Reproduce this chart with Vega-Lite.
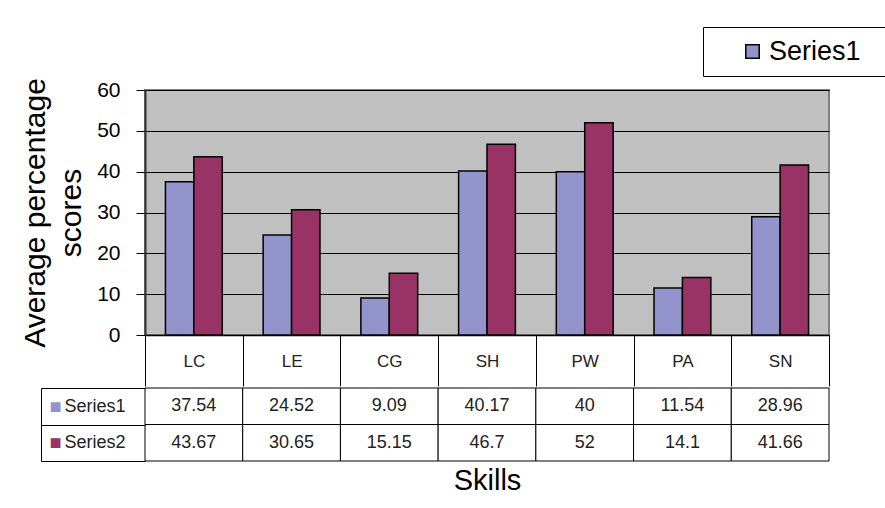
{
  "$schema": "https://vega.github.io/schema/vega-lite/v6.json",
  "padding": {"left": 19, "top": 26, "right": 0, "bottom": 0},
  "background": "white",
  "datasets": {
    "scores": [
      {"skill": "LC", "series": "Series1", "value": 37.54},
      {"skill": "LE", "series": "Series1", "value": 24.52},
      {"skill": "CG", "series": "Series1", "value": 9.09},
      {"skill": "SH", "series": "Series1", "value": 40.17},
      {"skill": "PW", "series": "Series1", "value": 40},
      {"skill": "PA", "series": "Series1", "value": 11.54},
      {"skill": "SN", "series": "Series1", "value": 28.96},
      {"skill": "LC", "series": "Series2", "value": 43.67},
      {"skill": "LE", "series": "Series2", "value": 30.65},
      {"skill": "CG", "series": "Series2", "value": 15.15},
      {"skill": "SH", "series": "Series2", "value": 46.7},
      {"skill": "PW", "series": "Series2", "value": 52},
      {"skill": "PA", "series": "Series2", "value": 14.1},
      {"skill": "SN", "series": "Series2", "value": 41.66}
    ]
  },
  "data": {"name": "scores"},
  "spacing": -15,
  "config": {
    "font": "Liberation Sans",
    "axis": {"labelFont": "Liberation Sans", "titleFont": "Liberation Sans", "titleFontWeight": "normal", "labelColor": "black", "titleColor": "black"},
    "legend": {
      "orient": "none",
      "legendX": 558,
      "legendY": -63,
      "strokeColor": "black",
      "fillColor": "white",
      "padding": 11,
      "symbolOffset": 25,
      "labelFontSize": 27,
      "labelFont": "Liberation Sans",
      "labelColor": "black",
      "labelOffset": 3,
      "symbolType": "square",
      "symbolSize": 180,
      "symbolStrokeColor": "black",
      "symbolStrokeWidth": 1.5,
      "titleOrient": "right",
      "titlePadding": 20,
      "titleFontSize": 20
    }
  },
  "vconcat": [
    {
      "width": 684,
      "height": 245,
      "view": {"fill": "#C0C0C0", "stroke": "#808080", "strokeWidth": 2},
      "mark": {"type": "bar", "stroke": "black", "strokeWidth": 1.5},
      "encoding": {
        "x": {
          "field": "skill",
          "type": "nominal",
          "sort": ["LC", "LE", "CG", "SH", "PW", "PA", "SN"],
          "scale": {"paddingInner": 0, "paddingOuter": 0},
          "axis": {
            "title": null,
            "labelAngle": 0,
            "domainColor": "black",
            "domainWidth": 1.5,
            "tickBand": "extent",
            "tickSize": 51,
            "tickColor": "black",
            "tickWidth": 1,
            "labelFontSize": 17,
            "labelColor": "#222222",
            "labelBaseline": "middle",
            "labelPadding": -25
          }
        },
        "xOffset": {
          "field": "series",
          "scale": {"paddingInner": 0, "paddingOuter": 0.72}
        },
        "y": {
          "field": "value",
          "type": "quantitative",
          "scale": {"domain": [0, 60]},
          "axis": {
            "values": [0, 10, 20, 30, 40, 50, 60],
            "title": ["Average percentage", "scores"],
            "titleFontSize": 30,
            "titleLineHeight": 36,
            "titlePadding": 10,
            "labelFontSize": 21,
            "labelPadding": 16,
            "tickSize": 9,
            "tickColor": "black",
            "domainColor": "#333333",
            "domainWidth": 2,
            "gridColor": "black",
            "gridWidth": 1,
            "gridOpacity": 1
          }
        },
        "color": {
          "field": "series",
          "type": "nominal",
          "scale": {"domain": ["Series1", "Series2"], "range": ["#9494CC", "#993366"]},
          "legend": {"values": ["Series1"], "title": " "}
        }
      }
    },
    {
      "width": 684,
      "height": 73,
      "view": {"stroke": null},
      "layer": [
        {
          "mark": {"type": "rect", "fill": "white", "stroke": "black", "strokeWidth": 1},
          "encoding": {
            "x": {
              "field": "skill",
              "type": "nominal",
              "sort": ["LC", "LE", "CG", "SH", "PW", "PA", "SN"],
              "scale": {"paddingInner": 0, "paddingOuter": 0},
              "axis": {"title": "Skills", "titleFontSize": 29, "titlePadding": 5, "labels": false, "ticks": false, "domain": false}
            },
            "y": {
              "field": "series",
              "type": "nominal",
              "scale": {"domain": ["Series1", "Series2"], "paddingInner": 0, "paddingOuter": 0},
              "axis": {
                "orient": "left",
                "title": null,
                "domain": false,
                "tickBand": "extent",
                "tickSize": 104,
                "tickColor": "black",
                "tickWidth": 1,
                "labelAlign": "left",
                "labelBaseline": "middle",
                "labelFontSize": 18,
                "labelColor": "#222222",
                "labelPadding": -23
              }
            }
          }
        },
        {
          "mark": {"type": "text", "fontSize": 18, "color": "#222222", "font": "Liberation Sans"},
          "encoding": {
            "x": {
              "field": "skill",
              "type": "nominal",
              "sort": ["LC", "LE", "CG", "SH", "PW", "PA", "SN"],
              "scale": {"paddingInner": 0, "paddingOuter": 0}
            },
            "y": {
              "field": "series",
              "type": "nominal",
              "scale": {"domain": ["Series1", "Series2"], "paddingInner": 0, "paddingOuter": 0},
              "axis": {
                "orient": "left",
                "title": null,
                "offset": 104,
                "domain": true,
                "domainColor": "black",
                "domainWidth": 1,
                "ticks": false,
                "labelExpr": "'■'",
                "labelAlign": "center",
                "labelBaseline": "middle",
                "labelFontSize": 20,
                "labelPadding": -14,
                "labelColor": {"condition": {"test": "datum.value == 'Series1'", "value": "#9494CC"}, "value": "#993366"}
              }
            },
            "text": {"field": "value", "type": "nominal"}
          }
        }
      ],
      "resolve": {"scale": {"y": "independent"}}
    }
  ]
}
